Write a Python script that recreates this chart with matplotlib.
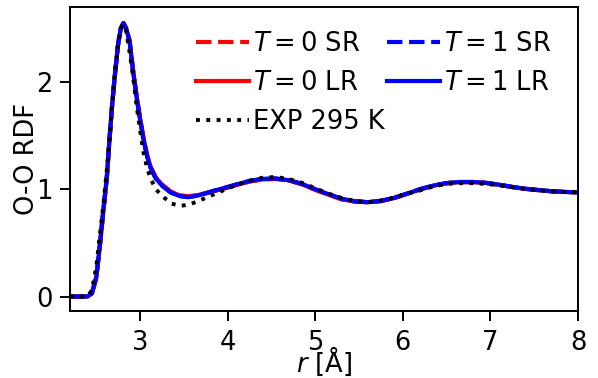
import matplotlib
matplotlib.use("Agg")
import matplotlib.pyplot as plt

r = [2.20, 2.30, 2.40, 2.45, 2.50, 2.54, 2.58, 2.62, 2.65, 2.68, 2.71, 2.75, 2.78, 2.81,
     2.84, 2.88, 2.92, 2.96, 3.00, 3.04, 3.08, 3.12, 3.18, 3.25, 3.35, 3.45, 3.55, 3.65,
     3.75, 3.85, 3.95, 4.10, 4.25, 4.40, 4.55, 4.70, 4.85, 5.00, 5.15, 5.30, 5.45, 5.60,
     5.75, 5.90, 6.05, 6.20, 6.35, 6.50, 6.65, 6.80, 6.95, 7.10, 7.25, 7.40, 7.55, 7.70,
     7.85, 8.00]

g_t1_lr = [0.0, 0.0, 0.0, 0.03, 0.18, 0.47, 0.80, 1.11, 1.46, 1.78, 2.05, 2.36, 2.50, 2.55,
           2.50, 2.38, 2.10, 1.86, 1.65, 1.46, 1.31, 1.20, 1.10, 1.035, 0.97, 0.937, 0.927, 0.94,
           0.963, 0.988, 1.01, 1.045, 1.078, 1.097, 1.10, 1.085, 1.05, 1.00, 0.955, 0.912, 0.888, 0.88,
           0.892, 0.92, 0.96, 1.002, 1.035, 1.058, 1.068, 1.068, 1.06, 1.043, 1.022, 1.005, 0.993, 0.982,
           0.975, 0.972]
g_t1_sr = [0.0, 0.0, 0.0, 0.03, 0.18, 0.47, 0.80, 1.11, 1.46, 1.78, 2.05, 2.36, 2.50, 2.55,
           2.50, 2.38, 2.10, 1.86, 1.65, 1.46, 1.31, 1.20, 1.10, 1.035, 0.97, 0.937, 0.927, 0.94,
           0.963, 0.988, 1.01, 1.045, 1.078, 1.097, 1.10, 1.085, 1.05, 1.00, 0.955, 0.912, 0.888, 0.88,
           0.892, 0.92, 0.96, 1.002, 1.035, 1.058, 1.068, 1.068, 1.06, 1.043, 1.022, 1.005, 0.993, 0.982,
           0.975, 0.972]
g_t0_lr = [0.0, 0.0, 0.0, 0.03, 0.175, 0.46, 0.79, 1.10, 1.45, 1.77, 2.045, 2.355, 2.50, 2.55,
           2.505, 2.39, 2.115, 1.875, 1.665, 1.475, 1.32, 1.21, 1.11, 1.045, 0.978, 0.944, 0.934, 0.944,
           0.963, 0.985, 1.005, 1.04, 1.073, 1.093, 1.097, 1.083, 1.046, 0.995, 0.95, 0.907, 0.886, 0.879,
           0.89, 0.918, 0.958, 0.999, 1.033, 1.056, 1.067, 1.067, 1.059, 1.042, 1.021, 1.004, 0.992, 0.981,
           0.975, 0.972]
g_t0_sr = [0.0, 0.0, 0.0, 0.03, 0.175, 0.46, 0.79, 1.10, 1.45, 1.77, 2.045, 2.355, 2.50, 2.55,
           2.505, 2.39, 2.115, 1.875, 1.665, 1.475, 1.32, 1.21, 1.11, 1.045, 0.978, 0.944, 0.934, 0.944,
           0.963, 0.985, 1.005, 1.04, 1.073, 1.093, 1.097, 1.083, 1.046, 0.995, 0.95, 0.907, 0.886, 0.879,
           0.89, 0.918, 0.958, 0.999, 1.033, 1.056, 1.067, 1.067, 1.059, 1.042, 1.021, 1.004, 0.992, 0.981,
           0.975, 0.972]
g_exp = [0.0, 0.0, 0.0, 0.06, 0.28, 0.57, 0.85, 1.18, 1.45, 1.77, 2.07, 2.36, 2.50, 2.54,
         2.48, 2.28, 2.05, 1.78, 1.55, 1.34, 1.20, 1.10, 1.00, 0.94, 0.87, 0.845, 0.855, 0.885,
         0.92, 0.955, 0.99, 1.04, 1.08, 1.108, 1.115, 1.095, 1.06, 1.01, 0.96, 0.92, 0.89, 0.88,
         0.895, 0.922, 0.96, 0.99, 1.027, 1.05, 1.057, 1.057, 1.05, 1.036, 1.02, 1.003, 0.991, 0.98,
         0.976, 0.974]

labels = ["$T = 0$ SR", "$T = 1$ SR", "$T = 0$ LR", "$T = 1$ LR", "EXP 295 K"]
xticks = [3, 4, 5, 6, 7, 8]
yticks = [0, 1, 2]

FS = 18.5
plt.rcParams['font.family'] = ['DejaVu Sans']
plt.rcParams['mathtext.fontset'] = 'dejavusans'

fig = plt.figure(figsize=(5.98, 3.78), dpi=100)
ax = fig.add_axes([70/598, 1-311/378, (578-70)/598, (311-7)/378])

lw = 3.0
h1, = ax.plot(r, g_t0_sr, color='red', ls='--', lw=lw, label=labels[0])
h2, = ax.plot(r, g_t1_sr, color='blue', ls='--', lw=lw, label=labels[1])
h3, = ax.plot(r, g_t0_lr, color='red', ls='-', lw=lw, label=labels[2])
h4, = ax.plot(r, g_t1_lr, color='blue', ls='-', lw=lw, label=labels[3])
h5, = ax.plot(r, g_exp, color='black', ls=':', lw=2.8, label=labels[4])

ax.set_xlim(2.2, 8.0)
ax.set_ylim(-0.135, 2.70)
ax.set_xticks(xticks)
ax.set_yticks(yticks)
ax.tick_params(labelsize=FS, length=7.5, width=1.4)
ax.tick_params(axis='x', pad=6)
ax.tick_params(axis='y', pad=5)
for s in ax.spines.values():
    s.set_linewidth(1.4)
ax.set_xlabel("$r$ [Å]", fontsize=FS, labelpad=-7.5)
ax.set_ylabel("O-O RDF", fontsize=FS, labelpad=-3)

leg = ax.legend([h1, h3, h5, h2, h4], [labels[0], labels[2], labels[4], labels[1], labels[3]],
                ncol=2, frameon=False, fontsize=FS, loc='upper right',
                bbox_to_anchor=(0.967, 0.955), borderaxespad=0.0,
                handlelength=2.06, handletextpad=0.15, columnspacing=0.1,
                labelspacing=0.5)

fig.savefig("out.png", dpi=100)
